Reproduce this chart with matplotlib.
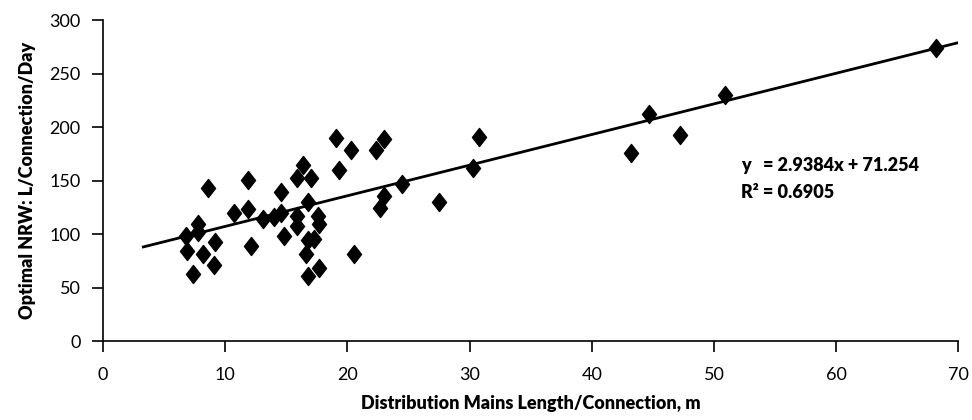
import matplotlib
matplotlib.use("Agg")
import matplotlib.pyplot as plt
from matplotlib.path import Path
import numpy as np

plt.rcParams['font.family'] = ['Lato', 'DejaVu Sans']

# Data
mains_length = [6.8, 6.9, 7.4, 7.8, 7.8, 8.2, 8.6, 9.1, 9.2, 10.7,
                11.9, 11.9, 12.1, 13.1, 14.0, 14.6, 14.6, 15.9, 15.9, 14.8,
                17.6, 17.7, 16.8, 17.3, 16.6, 17.7, 16.8, 16.8, 16.4, 15.9,
                17.0, 19.3, 19.1, 20.3, 22.3, 23.0, 20.5, 24.5, 23.0, 22.7,
                27.5, 30.3, 30.8, 43.2, 44.7, 47.2, 50.9, 68.2]
optimal_nrw = [98, 84, 63, 109, 102, 81, 143, 71, 93, 120,
               151, 123, 89, 114, 116, 139, 120, 117, 108, 98,
               117, 109, 94, 95, 81, 68, 61, 130, 165, 152,
               152, 160, 190, 179, 179, 189, 81, 147, 136, 124,
               130, 162, 191, 176, 212, 193, 230, 274]

slope = 2.9384
intercept = 71.254
r_squared = 0.6905
trend_x = [3.3, 70]
trend_y = [88, 279]

x_ticks = [0, 10, 20, 30, 40, 50, 60, 70]
y_ticks = [0, 50, 100, 150, 200, 250, 300]

fig = plt.figure(figsize=(9.72, 4.2), dpi=100)
ax = fig.add_axes([0.106, 0.188, 0.880, 0.764])

diamond = Path([(0, 1), (0.78, 0), (0, -1), (-0.78, 0), (0, 1)],
               [Path.MOVETO, Path.LINETO, Path.LINETO, Path.LINETO, Path.CLOSEPOLY])

ax.plot(trend_x, trend_y, color='black', lw=2.0, zorder=2)
ax.plot(mains_length, optimal_nrw, linestyle='none', marker=diamond,
        markersize=13, color='black', zorder=3)

ax.set_xlim(0, 70)
ax.set_ylim(0, 300)
ax.set_xticks(x_ticks)
ax.set_yticks(y_ticks)
for s in ['top', 'right']:
    ax.spines[s].set_visible(False)
for s in ['left', 'bottom']:
    ax.spines[s].set_linewidth(1.2)
ax.tick_params(axis='both', direction='out', length=8, width=1.2, labelsize=13)
ax.tick_params(axis='x', pad=11)
ax.tick_params(axis='y', pad=8)

ax.set_xlabel('Distribution Mains Length/Connection, m', fontsize=13,
              fontweight='heavy', labelpad=8)
ax.set_ylabel('Optimal NRW: L/Connection/Day', fontsize=13,
              fontweight='heavy', labelpad=10)

ax.text(52.2, 159, f'y   = {slope}x + {intercept}', fontsize=13,
        fontweight='heavy', va='baseline', ha='left')
ax.text(52.2, 133.5, f'R² = {r_squared}', fontsize=13,
        fontweight='heavy', va='baseline', ha='left')

fig.savefig('out.png', dpi=100)
